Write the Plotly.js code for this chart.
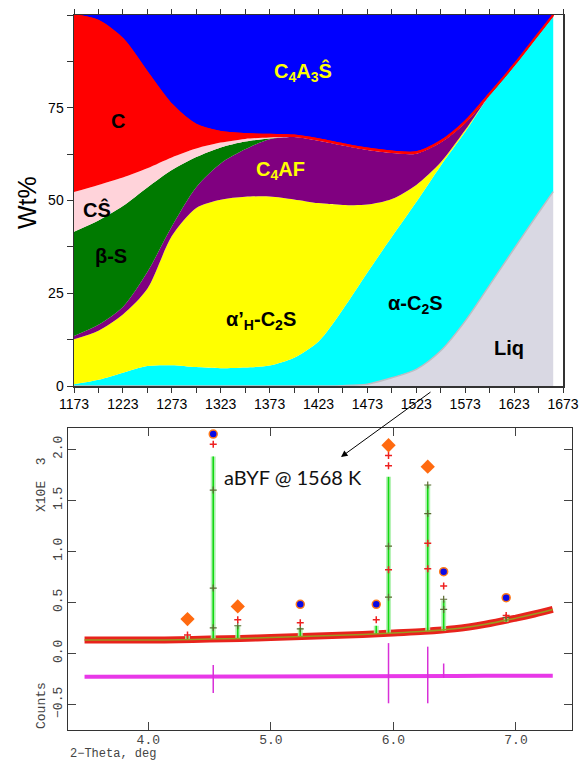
<!DOCTYPE html>
<html>
<head>
<meta charset="utf-8">
<script src="https://cdn.plot.ly/plotly-3.0.1.min.js"></script>
<style>html,body{margin:0;padding:0;background:#fff;}#chart{width:581px;height:762px;}</style>
</head>
<body>
<div id="chart"></div>
<script>
// ---------- Top panel: phase assemblage (cumulative boundaries, Wt%) ----------
const temperature = [1173,1198,1223,1248,1273,1298,1323,1348,1373,1398,1423,1448,1473,1498,1523,1548,1573,1598,1623,1648,1663];
const liqTop    = [0,0,0,0,0,0,0,0,0,0,0,0.1,0.5,2.2,4.5,9.5,17.5,27.2,37,46.7,52.4];
const cyanTop   = [0.5,1.7,3.6,5.4,5.6,5.1,4.8,5.0,5.5,7.6,12,20.7,30.6,40.2,49.6,59.4,68.5,78.4,86.2,94.6,99.6];
const yellowTop = [12.6,14.9,19.3,26.2,40.4,48,50.2,51,51.1,50.3,49.3,48.8,48.9,50.4,54.2,60.3,69.0,78.4,86.2,94.6,99.6];
const purpleTop = [13.5,16.5,21.3,30.7,43,53.6,60,63.8,66.5,67.1,66.1,64.8,63.6,62.8,62.6,65.6,70.9,78.4,86.2,94.6,99.6];
const greenTop  = [41.6,44.6,48.5,53.5,58.2,61.7,64.3,65.9,66.7,67.1,66.1,64.8,63.6,62.8,62.6,65.6,70.9,78.4,86.2,94.6,99.6];
const pinkTop   = [52.3,54.2,56.2,58.7,61.6,64,65.6,66.6,67.0,67.1,66.1,64.8,63.6,62.8,62.6,65.6,70.9,78.4,86.2,94.6,99.6];
const redTop    = [100,98.4,93.5,84.5,75.8,70.4,68.5,67.9,67.7,67.5,66.5,65.2,64,63.2,63,66,71.3,78.8,86.6,95,100];
const blueTop   = [100,100,100,100,100,100,100,100,100,100,100,100,100,100,100,100,100,100,100,100,100];
const tempTicks = [1173,1223,1273,1323,1373,1423,1473,1523,1573,1623,1673];
const wtTicks = [0,25,50,75];

// ---------- Bottom panel: XRD pattern ----------
const bgTheta = [3.48,3.75,4.0,4.25,4.5,4.75,5.0,5.25,5.5,5.75,6.0,6.25,6.5,6.75,7.0,7.15,7.3];
const bgCounts = [0.13,0.13,0.13,0.133,0.14,0.145,0.155,0.165,0.175,0.185,0.20,0.215,0.24,0.285,0.345,0.385,0.43];
const diffCounts = [-0.23,-0.23,-0.228,-0.228,-0.226,-0.226,-0.225,-0.225,-0.224,-0.224,-0.223,-0.222,-0.222,-0.22,-0.22,-0.22,-0.22];
const peakTheta = [4.32,4.53,4.73,5.24,5.86,5.96,6.28,6.41,6.92];
const peakBase  = [0.135,0.14,0.145,0.165,0.19,0.195,0.215,0.22,0.31];
const peakCalc  = [0.17,1.93,0.27,0.25,0.27,1.73,1.65,0.52,0.35];
const obsPeakTheta = [4.32,4.53,4.73,5.24,5.86,5.96,5.96,5.96,6.28,6.28,6.41,6.92];
const obsPeakCounts = [0.18,2.05,0.33,0.30,0.33,1.94,1.84,0.82,1.08,0.83,0.66,0.37];
const calcMarkTheta = [4.53,4.53,4.53,4.73,5.24,5.96,5.96,6.28,6.28,6.41,6.41,6.92];
const calcMarkCounts = [1.60,0.64,0.25,0.27,0.24,1.05,0.55,1.65,1.37,0.53,0.43,0.35];
const diffPeakTheta = [4.53,5.96,6.28,6.41];
const diffPeakHigh = [-0.115,0.10,0.065,-0.10];
const diffPeakLow = [-0.39,-0.49,-0.49,-0.24];
const circleTheta = [4.53,5.24,5.86,6.41,6.92];
const circleCounts = [2.15,0.48,0.48,0.80,0.545];
const diamondTheta = [4.32,4.73,5.96,6.28];
const diamondCounts = [0.336,0.46,2.04,1.83];
const countTicks = [-0.5,0,0.5,1.0,1.5,2.0];
const thetaTicks = [4,5,6,7];

// ---------- helpers ----------
const W = 581, H = 762;
const px = v => v / W, py = v => 1 - v / H;

function area(y, color, fill, lineColor, lineWidth) {
  return {
    x: temperature, y: y, type: 'scatter', mode: 'lines', fill: fill,
    fillcolor: color,
    line: {color: lineColor || color, width: lineWidth || 0, shape: 'spline', smoothing: 0.8},
    xaxis: 'x', yaxis: 'y', hoverinfo: 'skip'
  };
}
function spikes(xs, lo, hi) {
  const X = [], Y = [];
  xs.forEach((p, i) => { X.push(p, p, null); Y.push(lo[i], hi[i], null); });
  return {X, Y};
}

const traces = [
  area(liqTop, '#d9d8e3', 'tozeroy', '#bdbdc4', 1.5),
  area(cyanTop, '#00ffff', 'tonexty'),
  area(yellowTop, '#ffff00', 'tonexty'),
  area(purpleTop, '#800080', 'tonexty'),
  area(greenTop, '#007a00', 'tonexty'),
  area(pinkTop, '#ffd3da', 'tonexty'),
  area(redTop, '#ff0000', 'tonexty', '#ff0000', 2),
  area(blueTop, '#0000ff', 'tonexty'),
  {x: temperature, y: redTop, type: 'scatter', mode: 'lines', line: {color: '#ff0000', width: 2, shape: 'spline', smoothing: 0.8},
   xaxis: 'x', yaxis: 'y', hoverinfo: 'skip'}
];

const calcSp = spikes(peakTheta, peakBase, peakCalc);
const diffSp = spikes(diffPeakTheta, diffPeakLow, diffPeakHigh);
traces.push(
  {x: bgTheta, y: diffCounts, mode: 'lines', line: {color: '#e838e8', width: 4}, xaxis: 'x2', yaxis: 'y2', hoverinfo: 'skip'},
  {x: diffSp.X, y: diffSp.Y, mode: 'lines', line: {color: '#d830d8', width: 1.5}, xaxis: 'x2', yaxis: 'y2', hoverinfo: 'skip', connectgaps: false},
  {x: bgTheta, y: bgCounts, mode: 'lines', line: {color: '#e8231c', width: 7, shape: 'spline'}, xaxis: 'x2', yaxis: 'y2', hoverinfo: 'skip'},
  {x: calcSp.X, y: calcSp.Y, mode: 'lines', line: {color: 'rgba(170,240,170,0.85)', width: 5}, xaxis: 'x2', yaxis: 'y2', hoverinfo: 'skip', connectgaps: false},
  {x: calcSp.X, y: calcSp.Y, mode: 'lines', line: {color: '#10d810', width: 1.6}, xaxis: 'x2', yaxis: 'y2', hoverinfo: 'skip', connectgaps: false},
  {x: bgTheta, y: bgCounts, mode: 'lines', line: {color: '#9a9a20', width: 1.5, shape: 'spline'}, xaxis: 'x2', yaxis: 'y2', hoverinfo: 'skip'},
  {x: calcMarkTheta, y: calcMarkCounts, mode: 'markers', marker: {symbol: 'cross-thin', size: 5, line: {color: '#5a6a30', width: 1.2}}, xaxis: 'x2', yaxis: 'y2', hoverinfo: 'skip'},
  {x: obsPeakTheta, y: obsPeakCounts, mode: 'markers', marker: {symbol: 'cross-thin', size: 5, line: {color: '#ee2020', width: 1.5}}, xaxis: 'x2', yaxis: 'y2', hoverinfo: 'skip'},
  {x: circleTheta, y: circleCounts, mode: 'markers', marker: {symbol: 'circle', size: 8, color: '#0a0ae6', line: {color: '#ff7a1a', width: 1.5}}, xaxis: 'x2', yaxis: 'y2', hoverinfo: 'skip'},
  {x: diamondTheta, y: diamondCounts, mode: 'markers', marker: {symbol: 'diamond', size: 11, color: '#ff6a10', line: {width: 0}}, xaxis: 'x2', yaxis: 'y2', hoverinfo: 'skip'}
);

// tick text helpers
const tempTickVals = [], tempTickText = [];
for (let i = 0; i < tempTicks.length; i++) {
  tempTickVals.push(tempTicks[i]); tempTickText.push(String(tempTicks[i]));
  if (i < tempTicks.length - 1) { tempTickVals.push((tempTicks[i] + tempTicks[i+1]) / 2); tempTickText.push(' '); }
}
const wtTickVals = [], wtTickText = [];
for (let i = 0; i <= 8; i++) { const v = i * 12.5; wtTickVals.push(v); wtTickText.push(wtTicks.includes(v) ? String(v) : ' '); }

const labelFont = (c, s) => ({family: 'Liberation Sans, Arial, sans-serif', size: s || 20, color: c});
const lab = (text, x, y, c) => ({text: '<b>' + text + '</b>', xref: 'paper', yref: 'paper', x: px(x), y: py(y), showarrow: false, font: labelFont(c), xanchor: 'center', yanchor: 'middle'});
const mono = {family: 'Liberation Mono, DejaVu Sans Mono, monospace', size: 13, color: '#444'};

const layout = {
  width: W, height: H, margin: {l: 0, r: 0, t: 0, b: 0},
  paper_bgcolor: '#fff', plot_bgcolor: '#fff', showlegend: false, hovermode: false,
  xaxis: {domain: [px(74), px(563)], range: [1173, 1673], tickmode: 'array', tickvals: tempTickVals, ticktext: tempTickText,
          ticks: 'outside', ticklen: 5, tickcolor: '#333', showline: true, linecolor: '#333', linewidth: 1.5, mirror: 'ticks',
          showgrid: false, zeroline: false, tickfont: {family: 'Liberation Sans, Arial, sans-serif', size: 14, color: '#000'}, anchor: 'y'},
  yaxis: {domain: [py(386), py(15)], range: [0, 100], tickmode: 'array', tickvals: wtTickVals, ticktext: wtTickText,
          ticks: 'outside', ticklen: 6, tickcolor: '#333', showline: true, linecolor: '#333', linewidth: 1.5, mirror: true,
          showgrid: false, zeroline: false, tickfont: {family: 'Liberation Sans, Arial, sans-serif', size: 14, color: '#000'}, anchor: 'x'},
  xaxis2: {domain: [px(68), px(572)], range: [3.345, 7.457], tickmode: 'array', tickvals: thetaTicks, ticktext: thetaTicks.map(v => v.toFixed(1)),
           ticks: 'inside', ticklen: 8, tickcolor: '#444', showline: true, linecolor: '#333', linewidth: 1.2, mirror: 'ticks',
           ticklabelstandoff: -3,
           showgrid: false, zeroline: false, tickfont: mono, anchor: 'y2'},
  yaxis2: {domain: [py(730), py(428)], range: [-0.752, 2.209], tickmode: 'array', tickvals: countTicks, ticktext: countTicks.map(v => (v < 0 ? '\u22120.5' : v.toFixed(1))),
           ticks: 'inside', ticklen: 8, tickcolor: '#444', showline: true, linecolor: '#333', linewidth: 1.2, mirror: 'ticks', tickangle: -90,
           showgrid: false, zeroline: false, tickfont: mono, anchor: 'x2'},
  annotations: [
    lab('C<sub>4</sub>A<sub>3</sub>Ŝ', 303, 72, '#ffff00'),
    lab('C', 118, 121, '#000'),
    lab('CŜ', 97, 210, '#000'),
    lab('β-S', 111, 256, '#000'),
    lab('C<sub>4</sub>AF', 280, 170, '#ffff00'),
    lab('α’<sub>H</sub>-C<sub>2</sub>S', 261, 321, '#000'),
    lab('α-C<sub>2</sub>S', 415, 304, '#000'),
    lab('Liq', 509, 348, '#000'),
    {text: 'Wt%', xref: 'paper', yref: 'paper', x: px(27), y: py(203), showarrow: false, textangle: -90,
     font: {family: 'Liberation Sans, Arial, sans-serif', size: 25, color: '#000'}, xanchor: 'center', yanchor: 'middle'},
    {text: '', xref: 'paper', yref: 'paper', x: px(341), y: py(457), showarrow: true, ax: 91, ay: -66,
     arrowhead: 2, arrowsize: 1.3, arrowwidth: 1, arrowcolor: '#000'},
    {text: 'aBYF @ 1568 K', xref: 'paper', yref: 'paper', x: px(293), y: py(477), showarrow: false,
     font: {family: 'Lato, Open Sans, sans-serif', size: 20, color: '#111'}, xanchor: 'center', yanchor: 'middle'},
    {text: 'X10E  3', xref: 'paper', yref: 'paper', x: px(41), y: py(485), showarrow: false, textangle: -90,
     font: mono, xanchor: 'center', yanchor: 'middle'},
    {text: 'Counts', xref: 'paper', yref: 'paper', x: px(41), y: py(706), showarrow: false, textangle: -90,
     font: mono, xanchor: 'center', yanchor: 'middle'},
    {text: '2\u2212Theta, deg', xref: 'paper', yref: 'paper', x: px(68), y: py(754), showarrow: false,
     font: {family: 'Liberation Mono, DejaVu Sans Mono, monospace', size: 12, color: '#444'}, xanchor: 'left', yanchor: 'middle'}
  ]
};

Plotly.newPlot('chart', traces, layout, {staticPlot: true, displayModeBar: false});
</script>
</body>
</html>
